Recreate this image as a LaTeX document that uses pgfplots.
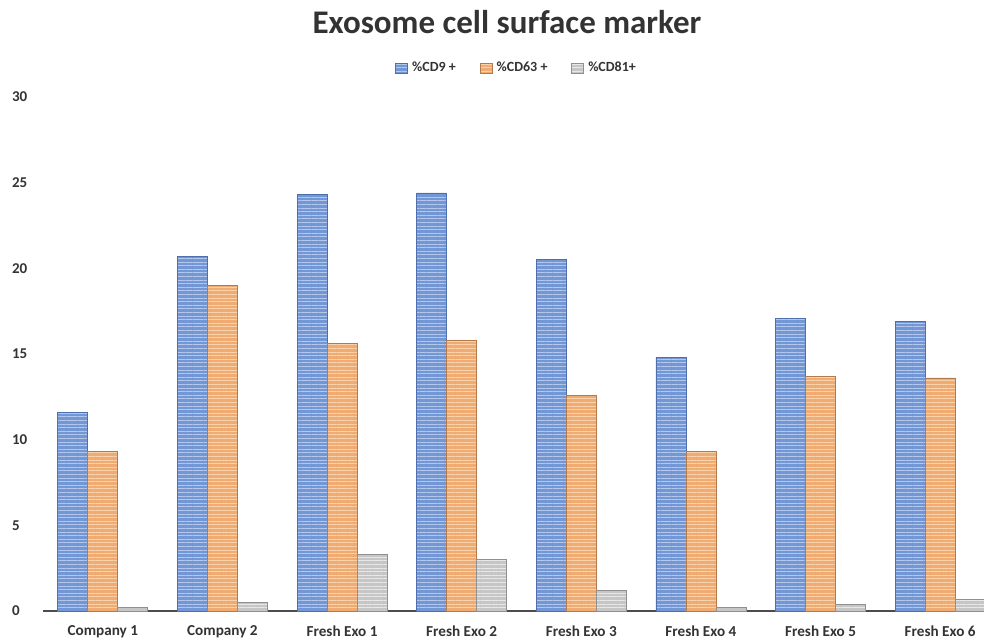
\documentclass[border=0pt]{standalone}
\usepackage{pgfplots}
\pgfplotsset{compat=1.18}
\usepackage{fontspec}
\setmainfont{Carlito}
\usetikzlibrary{patterns.meta}

\definecolor{cdnine}{HTML}{7396D4}
\definecolor{cdninel}{HTML}{B3C8EC}
\definecolor{cdninee}{HTML}{4E6FAE}
\definecolor{cdsix}{HTML}{F0AB72}
\definecolor{cdsixl}{HTML}{F9D3AC}
\definecolor{cdsixe}{HTML}{B47A4C}
\definecolor{cdeight}{HTML}{C6C6C6}
\definecolor{cdeightl}{HTML}{E8E8E8}
\definecolor{cdeighte}{HTML}{909090}

\pgfplotstableread{
x  cd9   cd63  cd81
0  11.6  9.3   0.2
1  20.7  19.0  0.5
2  24.3  15.6  3.3
3  24.4  15.8  3.0
4  20.5  12.6  1.2
5  14.8  9.3   0.2
6  17.1  13.7  0.4
7  16.9  13.6  0.7
}\markers

\begin{document}
\begin{tikzpicture}
\begin{axis}[
  scale only axis,
  width=478.5pt, height=257pt,
  at={(0,0)}, anchor=south west,
  ybar=0pt, bar width=15pt,
  xmin=-0.5, xmax=7.5,
  ymin=0, ymax=30,
  xtick=data,
  xticklabels={Company 1, Company 2, Fresh Exo 1, Fresh Exo 2, Fresh Exo 3, Fresh Exo 4, Fresh Exo 5, Fresh Exo 6},
  ytick={0,5,...,30},
  axis x line=bottom, axis y line=left,
  x axis line style={black!70, line width=1pt, -},
  y axis line style={draw=none},
  tick style={draw=none},
  xticklabel style={font=\bfseries\fontsize{7.6}{8}\selectfont, inner sep=0pt, yshift=-5pt, text=black!80},
  yticklabel style={font=\bfseries\fontsize{7.5}{8}\selectfont, inner sep=0pt, anchor=west, xshift=-13.5pt, text=black!80},
  /pgf/number format/assume math mode=true,
  legend style={at={(0.496,1.056)}, anchor=center, draw=none, fill=none,
    font=\bfseries\fontsize{7}{8}\selectfont, text=black!80,
    /tikz/every even column/.append style={column sep=10pt}},
  legend columns=3,
  legend image code/.code={\draw[#1] (0pt,-2.6pt) rectangle (6pt,2.6pt);},
  clip=false,
]
\addplot[fill=cdnine, draw=cdninee, line width=0.4pt,
  postaction={pattern={Lines[angle=0,distance=1.8pt,line width=0.45pt]}, pattern color=cdninel}]
  table[x=x, y=cd9] {\markers};
\addplot[fill=cdsix, draw=cdsixe, line width=0.4pt,
  postaction={pattern={Lines[angle=0,distance=1.8pt,line width=0.45pt]}, pattern color=cdsixl}]
  table[x=x, y=cd63] {\markers};
\addplot[fill=cdeight, draw=cdeighte, line width=0.4pt,
  postaction={pattern={Lines[angle=0,distance=1.8pt,line width=0.45pt]}, pattern color=cdeightl}]
  table[x=x, y=cd81] {\markers};
\legend{\%CD9 +, \%CD63 +, \%CD81+}
\end{axis}
\node[font=\bfseries\fontsize{16.5}{18}\selectfont, text=black!80] at (232pt,294.5pt) {Exosome cell surface marker};
\pgfresetboundingbox
\useasboundingbox (-21.5pt,-14.5pt) rectangle (470.5pt,305.5pt);
\end{tikzpicture}
\end{document}
